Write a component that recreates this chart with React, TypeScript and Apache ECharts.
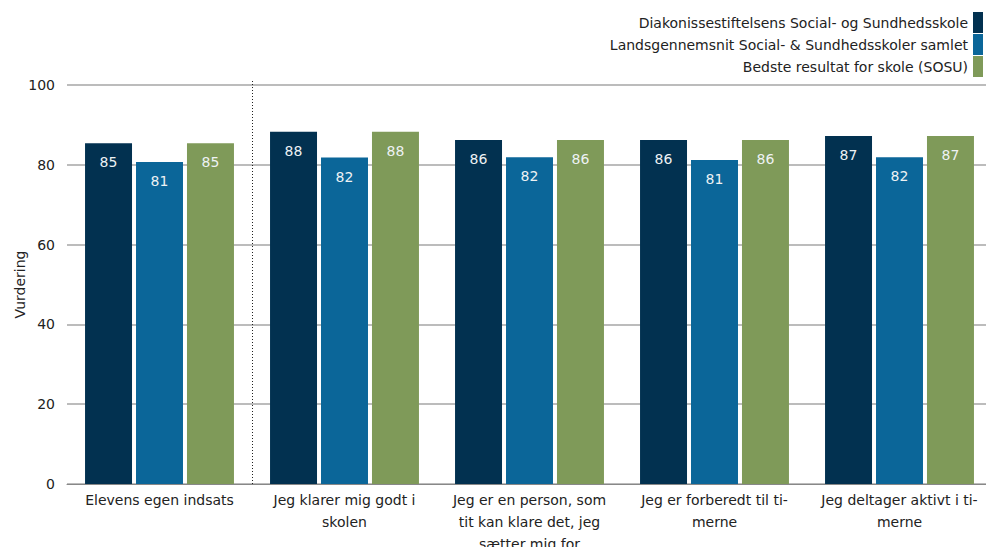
import React, { useEffect, useRef } from "react";
import * as echarts from "echarts";

const categories = [
  "Elevens egen indsats",
  "Jeg klarer mig godt i\nskolen",
  "Jeg er en person, som\ntit kan klare det, jeg\nsætter mig for",
  "Jeg er forberedt til ti-\nmerne",
  "Jeg deltager aktivt i ti-\nmerne",
];
const seriesNames = [
  "Diakonissestiftelsens Social- og Sundhedsskole",
  "Landsgennemsnit Social- & Sundhedsskoler samlet",
  "Bedste resultat for skole (SOSU)",
];
const schoolValues = [85.4, 88.3, 86.2, 86.2, 87.2];
const nationalValues = [80.7, 81.8, 81.9, 81.2, 81.9];
const bestValues = [85.4, 88.3, 86.2, 86.2, 87.2];
const colors = ["#023150", "#0b6699", "#7f9a59"];
const yTicks = { min: 0, max: 100, interval: 20 };
const separatorAfterIndex = 0;
const FONT = "DejaVu Sans";

export default function App() {
  const ref = useRef<HTMLDivElement>(null);
  useEffect(() => {
    if (!ref.current) return;
    document.body.style.margin = "0";
    const chart = echarts.init(ref.current, undefined, { renderer: "svg" });
    const data = [schoolValues, nationalValues, bestValues];
    chart.setOption({
      animation: false,
      textStyle: { fontFamily: FONT },
      legend: {
        orient: "vertical",
        right: -2,
        top: 7,
        align: "right",
        itemWidth: 10,
        itemHeight: 21,
        itemGap: 1,
        icon: "rect",
        selectedMode: false,
        textStyle: { fontFamily: FONT, fontSize: 14, color: "#222" },
        data: seriesNames,
      },
      grid: {
        left: 67,
        right: -6,
        top: 85,
        bottom: 63,
        containLabel: false,
        outerBoundsMode: "none",
      },
      xAxis: {
        type: "category",
        data: categories,
        axisLine: { lineStyle: { color: "#888", width: 1 } },
        axisTick: { show: false },
        axisLabel: {
          color: "#222",
          fontSize: 14,
          fontFamily: FONT,
          lineHeight: 22,
          margin: 5,
          interval: 0,
        },
      },
      yAxis: {
        type: "value",
        min: yTicks.min,
        max: yTicks.max,
        interval: yTicks.interval,
        name: "Vurdering",
        nameLocation: "middle",
        nameGap: 40,
        nameMoveOverlap: false,
        nameTextStyle: { color: "#222", fontSize: 14, fontFamily: FONT },
        axisLine: { show: false },
        axisTick: { show: false },
        axisLabel: { color: "#222", fontSize: 14, fontFamily: FONT, margin: 12 },
        splitLine: { lineStyle: { color: "#a6a6a6", width: 1.5 } },
      },
      series: seriesNames.map((name, k) => ({
        name,
        type: "bar",
        data: data[k],
        barGap: "8.5%",
        barCategoryGap: "19.5%",
        itemStyle: { color: colors[k] },
        label: {
          show: true,
          position: "insideTop",
          distance: 12,
          color: "#eef2f4",
          fontSize: 14,
          fontFamily: FONT,
          formatter: (p: any) => String(Math.round(p.value)),
        },
      })),
    });
    const c0 = chart.convertToPixel({ xAxisIndex: 0 }, separatorAfterIndex) as number;
    const c1 = chart.convertToPixel({ xAxisIndex: 0 }, separatorAfterIndex + 1) as number;
    const xSep = Math.round((c0 + c1) / 2) + 0.5;
    const yTop = chart.convertToPixel({ yAxisIndex: 0 }, yTicks.max) as number;
    const yBot = chart.convertToPixel({ yAxisIndex: 0 }, yTicks.min) as number;
    chart.setOption({
      graphic: [
        {
          type: "line",
          shape: { x1: xSep, y1: yTop - 4, x2: xSep, y2: yBot },
          style: { stroke: "#222", lineWidth: 1, lineDash: [1, 2] },
          z: 10,
        },
      ],
    });
    return () => chart.dispose();
  }, []);
  return <div ref={ref} style={{ width: 986, height: 547 }} />;
}
